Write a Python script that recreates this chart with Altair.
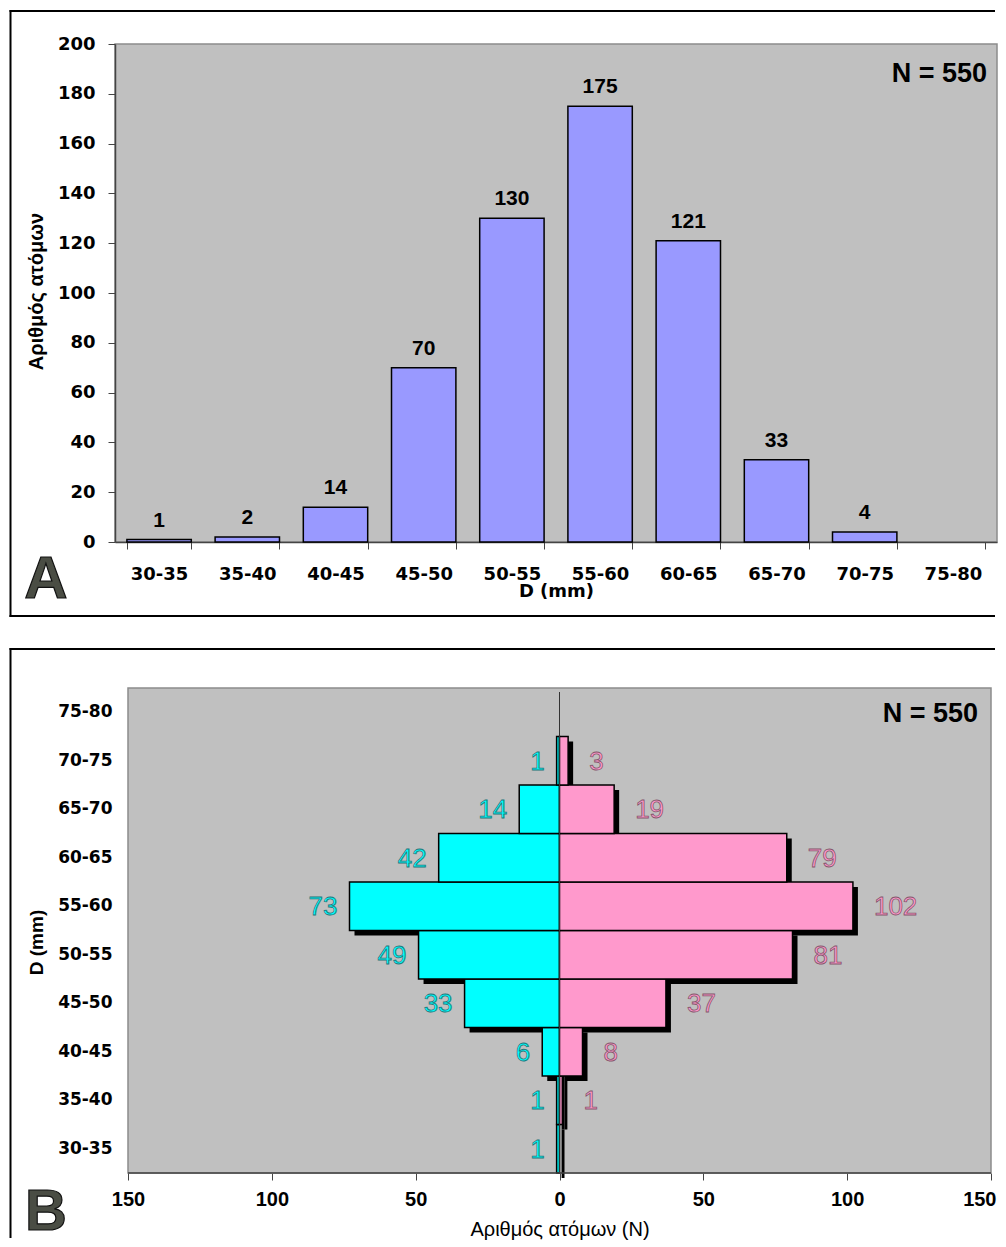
import altair as alt
import pandas as pd

# ---------------- data ----------------
classes = ["30-35", "35-40", "40-45", "45-50", "50-55",
           "55-60", "60-65", "65-70", "70-75", "75-80"]
total = [1, 2, 14, 70, 130, 175, 121, 33, 4, 0]
female = [1, 1, 6, 33, 49, 73, 42, 14, 1, 0]     # cyan, left side
male = [0, 1, 8, 37, 81, 102, 79, 19, 3, 0]      # pink, right side
y_ticks_a = [0, 20, 40, 60, 80, 100, 120, 140, 160, 180, 200]
x_ticks_b = [-150, -100, -50, 0, 50, 100, 150]

n_label = "N = 550"
ytitle_a = "Αριθμός ατόμων"
xtitle_a = "D (mm)"
ytitle_b = "D (mm)"
xtitle_b = "Αριθμός ατόμων (N)"
panel_a = "A"
panel_b = "B"

FW = "DejaVu Sans"
FA = "Liberation Sans"

dfA = pd.DataFrame({"cls": classes, "n": total})
rows = []
for c, f, m in zip(classes, female, male):
    rows.append({"cls": c, "sex": "F", "n": f, "start": -f, "end": 0})
    rows.append({"cls": c, "sex": "M", "n": m, "start": 0, "end": m})
dfB = pd.DataFrame(rows)
one = pd.DataFrame({"k": [0]})

WA, HA = 882, 498
PLOT_B = 863              # pixel width of the gray area of panel B
INSET_B = 13              # panel B gray area starts this far right of the panel origin
WB, HB = PLOT_B + INSET_B, 485
xmin_b = 150 - WB * 300 / PLOT_B

GRAY = "#C0C0C0"
EDGE = "#8c8c8c"
FRAME_X = -104.5
RIGHT_END = 879

# ---------------- panel A ----------------
xA = alt.X(
    "cls:N", sort=classes,
    scale=alt.Scale(domain=classes, paddingInner=0.27, paddingOuter=0.135),
    axis=alt.Axis(
        title=xtitle_a, labelAngle=0, tickBand="extent", tickSize=7,
        labelPadding=16, labelFont=FW, labelFontSize=18, labelFontWeight="bold",
        labelColor="black", domainColor="#444", tickColor="#444", domainWidth=1.5,
        titleFont=FW, titleFontSize=18, titleFontWeight="bold", titleColor="black",
        titleX=WA / 2, titleY=49, titleBaseline="middle", titleAlign="center",
    ),
)
yA = alt.Y(
    "n:Q", scale=alt.Scale(domain=[0, 200], nice=False),
    axis=alt.Axis(
        values=y_ticks_a, grid=False, tickSize=7, labelPadding=13, labelFlush=False,
        labelFont=FW, labelFontSize=18, labelFontWeight="bold", labelColor="black",
        domainColor="#444", tickColor="#444", domainWidth=1.5,
        title=ytitle_a, titleFont=FA, titleFontSize=20, titleFontWeight="bold",
        titleColor="black", titleAngle=270, titleX=-79, titleY=HA / 2 - 2,
        titleBaseline="middle", titleAlign="center",
    ),
)

barsA = alt.Chart(dfA).transform_filter("datum.n > 0").mark_bar(
    fill="#9999FF", stroke="black", strokeWidth=1.5
).encode(x=xA, y=yA)

labelsA = alt.Chart(dfA).transform_filter("datum.n > 0").mark_text(
    font=FA, fontSize=21, fontWeight="bold", baseline="alphabetic", dy=-13, color="black"
).encode(x=xA, y=yA, text="n:Q")

nA = alt.Chart(one).mark_text(
    font=FA, fontSize=27, fontWeight="bold", align="right", baseline="alphabetic", color="black"
).encode(x=alt.value(872), y=alt.value(38), text=alt.value(n_label))

letterA = alt.Chart(one).mark_text(
    font=FA, fontSize=60, fontWeight="bold", align="center", baseline="alphabetic",
    fill="#4a4d44", stroke="#111", strokeWidth=1.2
).encode(x=alt.value(-69), y=alt.value(554), text=alt.value(panel_a))

frameA = [
    alt.Chart(one).mark_rule(color="black", strokeWidth=2, strokeCap="square").encode(
        x=alt.value(FRAME_X), y=alt.value(-33), y2=alt.value(572)),
    alt.Chart(one).mark_rule(color="black", strokeWidth=2, strokeCap="square").encode(
        x=alt.value(FRAME_X), x2=alt.value(RIGHT_END), y=alt.value(-33)),
    alt.Chart(one).mark_rule(color="black", strokeWidth=2, strokeCap="square").encode(
        x=alt.value(FRAME_X), x2=alt.value(RIGHT_END), y=alt.value(572)),
]

chartA = alt.layer(barsA, labelsA, nA, letterA, *frameA).properties(
    width=WA, height=HA,
    view=alt.ViewBackground(fill=GRAY, stroke=EDGE, strokeWidth=1.5),
)

# ---------------- panel B ----------------
is150 = "datum.value == 150"
axisXB = alt.Axis(
    values=x_ticks_b, labelExpr="abs(datum.value)", grid=False, domain=False, tickSize=7,
    labelPadding=9, labelFlush=False, labelFont=FA, labelFontSize=20,
    labelFontWeight="bold", labelColor="black", tickColor="#444",
    labelAlign={"condition": {"test": is150, "value": "right"}, "value": "center"},
    labelOffset={"condition": {"test": is150, "value": 5}, "value": 0},
    title=xtitle_b, titleFont=FA, titleFontSize=20, titleFontWeight="normal",
    titleColor="black", titleX=INSET_B + PLOT_B / 2, titleY=56,
    titleBaseline="middle", titleAlign="center",
)
scaleXB = alt.Scale(domain=[xmin_b, 150], nice=False)
yB = alt.Y(
    "cls:N", sort=classes[::-1],
    scale=alt.Scale(domain=classes[::-1], paddingInner=0, paddingOuter=0),
    axis=alt.Axis(
        domain=False, ticks=False, tickSize=0, labelPadding=3,
        labelFont=FW, labelFontSize=17, labelFontWeight="bold", labelColor="black",
        title=ytitle_b, titleFont=FA, titleFontSize=19, titleFontWeight="bold",
        titleColor="black", titleAngle=270, titleX=-79, titleY=254,
        titleBaseline="middle", titleAlign="center",
    ),
)
color = alt.Color("sex:N", scale=alt.Scale(domain=["F", "M"], range=["#00FFFF", "#FF99CC"]), legend=None)

bgB = alt.Chart(one).mark_rect(fill=GRAY, stroke=EDGE, strokeWidth=1.5).encode(
    x=alt.X(datum=-150, scale=scaleXB, axis=axisXB), x2=alt.datum(150),
    y=alt.value(0), y2=alt.value(HB))

shadowB = alt.Chart(dfB).transform_filter("datum.n > 0").mark_bar(
    color="black", xOffset=5, x2Offset=5, yOffset=5
).encode(x=alt.X("start:Q", scale=scaleXB, axis=axisXB), x2="end:Q", y=yB)

barsB = alt.Chart(dfB).transform_filter("datum.n > 0").mark_bar(
    stroke="black", strokeWidth=1.5
).encode(x=alt.X("start:Q", scale=scaleXB, axis=axisXB), x2="end:Q", y=yB, color=color)

zeroB = alt.Chart(one).mark_rule(color="#333", strokeWidth=1).encode(
    x=alt.X(datum=0, scale=scaleXB, axis=axisXB), y=alt.value(4), y2=alt.value(HB))

axisLineB = alt.Chart(one).mark_rule(color="#444", strokeWidth=1.5).encode(
    x=alt.X(datum=-150, scale=scaleXB, axis=axisXB), x2=alt.datum(150), y=alt.value(HB))

labF = alt.Chart(dfB).transform_filter("datum.n > 0 && datum.sex == 'F'").mark_text(
    font=FA, fontSize=26, align="right", baseline="middle", dx=-12, dy=1,
    fill="#00FFFF", stroke="#23777a", strokeWidth=0.8
).encode(x=alt.X("start:Q", scale=scaleXB, axis=axisXB), y=yB, text="n:Q")

labM = alt.Chart(dfB).transform_filter("datum.n > 0 && datum.sex == 'M'").mark_text(
    font=FA, fontSize=26, align="left", baseline="middle", dx=21, dy=1,
    fill="#FF99CC", stroke="#85566b", strokeWidth=0.8
).encode(x=alt.X("end:Q", scale=scaleXB, axis=axisXB), y=yB, text="n:Q")

nB = alt.Chart(one).mark_text(
    font=FA, fontSize=27, fontWeight="bold", align="right", baseline="alphabetic", color="black"
).encode(x=alt.value(863), y=alt.value(34), text=alt.value(n_label))

letterB = alt.Chart(one).mark_text(
    font=FA, fontSize=58, fontWeight="bold", align="center", baseline="alphabetic",
    fill="#4a4d44", stroke="#111", strokeWidth=1.2
).encode(x=alt.value(-69), y=alt.value(542), text=alt.value(panel_b))

frameB = [
    alt.Chart(one).mark_rule(color="black", strokeWidth=2, strokeCap="square").encode(
        x=alt.value(FRAME_X), y=alt.value(-39), y2=alt.value(549)),
    alt.Chart(one).mark_rule(color="black", strokeWidth=2, strokeCap="square").encode(
        x=alt.value(FRAME_X), x2=alt.value(RIGHT_END), y=alt.value(-39)),
]

chartB = alt.layer(bgB, shadowB, barsB, zeroB, axisLineB, labF, labM, nB, letterB, *frameB).properties(
    width=WB, height=HB,
    view=alt.ViewBackground(fill="white", strokeOpacity=0),
)

chart = alt.vconcat(chartA, chartB, spacing=28, padding=0)

chart.save("out.html", embed_options={"renderer": "svg", "actions": False})
